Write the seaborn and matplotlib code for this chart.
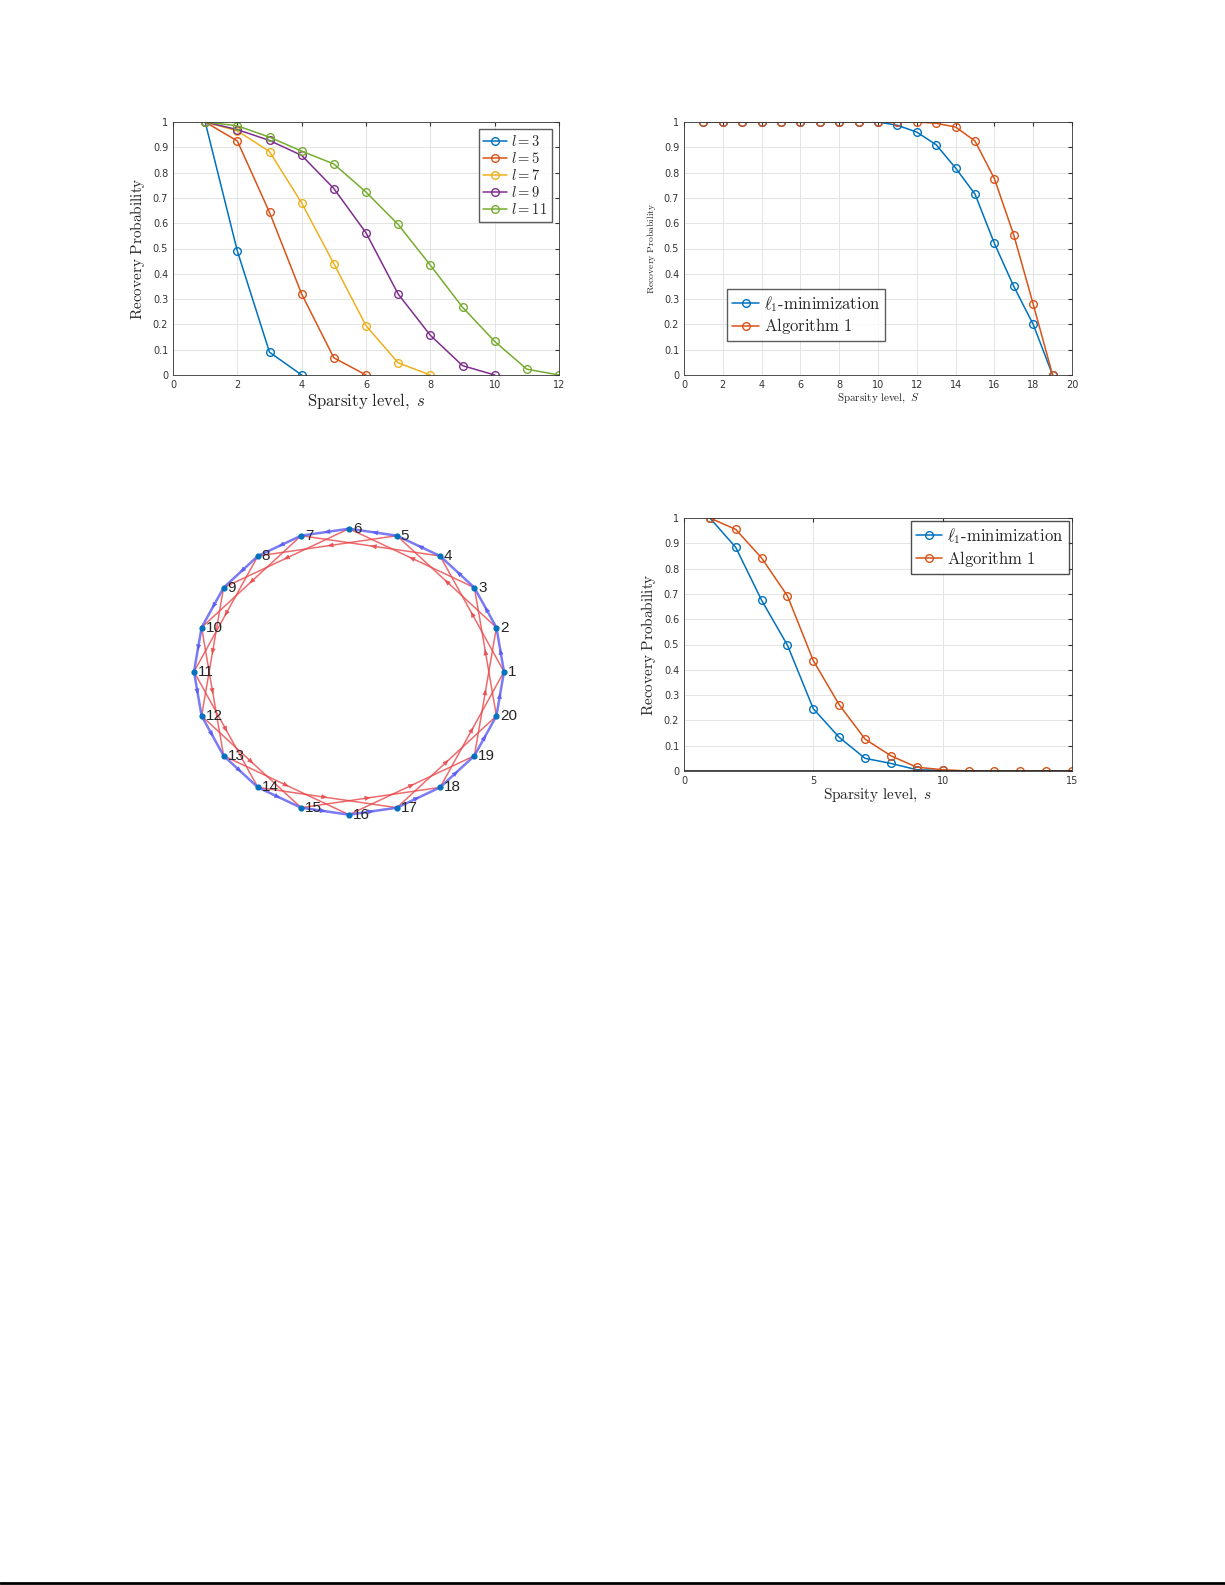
import numpy as np
import pandas as pd
import matplotlib
matplotlib.use("Agg")
import matplotlib.pyplot as plt
import seaborn as sns

sns.set_style("white")
plt.rcParams['font.family'] = ['DejaVu Sans']
plt.rcParams['mathtext.fontset'] = 'cm'

# ---- data ----
l3 = [1, .49, .09, 0]
l5 = [1, .925, .643, .32, .068, 0]
l7 = [1, .965, .883, .68, .44, .195, .048, 0]
l9 = [1, .97, .927, .868, .737, .562, .32, .157, .037, 0]
l11 = [1, .985, .94, .885, .834, .723, .595, .434, .268, .133, .023, 0]
l_labels = [r'$l = 3$', r'$l = 5$', r'$l = 7$', r'$l = 9$', r'$l = 11$']

p2_l1 = [1, 1, 1, 1, 1, 1, 1, 1, 1, 1, .987, .96, .91, .818, .715, .52, .35, .2, 0]
p2_alg = [1, 1, 1, 1, 1, 1, 1, 1, 1, 1, 1, 1, .995, .98, .925, .776, .553, .28, 0]

p4_l1 = [1, .884, .675, .497, .246, .133, .05, .03, .005, .002]
p4_alg = [1, .955, .842, .692, .436, .262, .126, .06, .015, .005, 0, 0, 0, 0, 0]

n_nodes = 20
chord_step = 3

colors = ['#0072BD', '#D95319', '#EDB120', '#7E2F8E', '#77AC30']

fig = plt.figure(figsize=(12.25, 15.85), dpi=100)

def style(ax, xlim, xticks, xlabel, xlabsize, ylabsize):
    ax.set_xlim(*xlim)
    ax.set_ylim(0, 1)
    ax.set_xticks(xticks)
    ax.set_yticks(np.round(np.arange(0, 1.01, 0.1), 1))
    ax.set_yticklabels(['0'] + [f'{v:.1f}' for v in np.arange(0.1, 0.95, 0.1)] + ['1'])
    ax.grid(True, color='#e4e4e4', lw=0.7)
    ax.tick_params(labelsize=7, length=3, direction='in', top=True, right=True, colors='#333333')
    for s in ax.spines.values():
        s.set_color('#333333'); s.set_linewidth(0.6)
    ax.set_xlabel(xlabel, fontsize=xlabsize, labelpad=1)
    ax.set_ylabel(r'$\mathrm{Recovery\ Probability}$', fontsize=ylabsize, labelpad=4)

def draw(ax, ys, labels, cols):
    for y, lab, c in zip(ys, labels, cols):
        df = pd.DataFrame({'s': np.arange(1, len(y) + 1), 'p': y})
        sns.lineplot(data=df, x='s', y='p', ax=ax, color=c, marker='o', markersize=5.5,
                     markerfacecolor='none', markeredgecolor=c, markeredgewidth=1,
                     lw=1.1, label=lab)

# Panel 1
ax1 = fig.add_axes([173/1225, 1-375/1585, 386/1225, 253/1585])
draw(ax1, [l3, l5, l7, l9, l11], l_labels, colors)
style(ax1, (0, 12), range(0, 13, 2), r'$\mathrm{Sparsity\ level,}\ s$', 12, 11)
ax1.legend(loc='upper right', fontsize=10.5, fancybox=False, edgecolor='#333333',
           handlelength=1.6, borderpad=0.3, labelspacing=0.15, handletextpad=0.3)

# Panel 2
ax2 = fig.add_axes([684/1225, 1-375/1585, 388/1225, 253/1585])
draw(ax2, [p2_l1, p2_alg], [r'$\ell_1\mathrm{\text{-}minimization}$', r'$\mathrm{Algorithm\ 1}$'], colors[:2])
style(ax2, (0, 20), range(0, 21, 2), r'$\mathrm{Sparsity\ level,}\ S$', 8, 7)
ax2.legend(loc='lower left', bbox_to_anchor=(0.09, 0.1), fontsize=12, fancybox=False,
           edgecolor='#333333', handlelength=1.6, borderpad=0.3, labelspacing=0.15,
           handletextpad=0.3)

# Panel 4
ax4 = fig.add_axes([684/1225, 1-771/1585, 388/1225, 253/1585])
draw(ax4, [p4_l1, p4_alg], [r'$\ell_1\mathrm{\text{-}minimization}$', r'$\mathrm{Algorithm\ 1}$'], colors[:2])
style(ax4, (0, 15), [0, 5, 10, 15], r'$\mathrm{Sparsity\ level,}\ s$', 11, 11)
ax4.axhline(0, color='#222222', lw=1.2)
ax4.legend(loc='upper right', fontsize=12, fancybox=False, edgecolor='#222222',
           handlelength=1.6, borderpad=0.3, labelspacing=0.15, handletextpad=0.3,
           borderaxespad=0.2)

# Panel 3: graph
ax3 = fig.add_axes([178.5/1225, 1-829/1585, 341/1225, 314.6/1585])
ax3.set_xlim(-1.1, 1.1); ax3.set_ylim(-1.1, 1.1); ax3.axis('off')
ang = np.deg2rad(18 * np.arange(n_nodes))
xs, ys = np.cos(ang), np.sin(ang)

def edge(i, j, c, lw):
    ax3.plot([xs[i], xs[j]], [ys[i], ys[j]], color=c, lw=lw, alpha=0.8, zorder=1)
    mx, my = (xs[i] + xs[j]) / 2, (ys[i] + ys[j]) / 2
    dx, dy = (xs[j] - xs[i]) * 0.02, (ys[j] - ys[i]) * 0.02
    ax3.annotate('', xy=(mx + dx, my + dy), xytext=(mx - dx, my - dy),
                 arrowprops=dict(arrowstyle='-|>,head_length=0.35,head_width=0.15',
                                 color=c, lw=0.5, alpha=0.8))

for i in range(n_nodes):
    edge(i, (i + chord_step) % n_nodes, '#e8474a', 1.1)
for i in range(n_nodes):
    edge(i, (i + 1) % n_nodes, '#5a5af0', 1.8)
ax3.scatter(xs, ys, s=12, color='#0072BD', zorder=3)
for k in range(n_nodes):
    ax3.text(xs[k] + 0.025, ys[k], str(k + 1), fontsize=11, va='center', ha='left',
             family='Liberation Sans', zorder=4)

# bottom page line
fig.add_artist(plt.Line2D([0, 1], [1 - 1583/1585] * 2, color='black', lw=2))

fig.savefig('out.png', dpi=100)
